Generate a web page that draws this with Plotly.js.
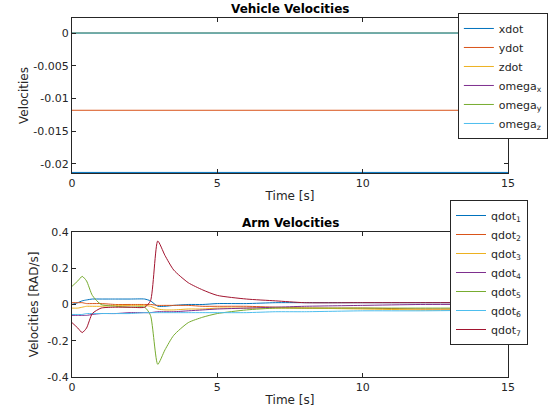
<!DOCTYPE html>
<html><head><meta charset="utf-8">
<script src="https://cdn.plot.ly/plotly-3.0.1.min.js"></script>
<style>body{margin:0;background:#fff}#chart{width:560px;height:420px}</style>
</head><body><div id="chart"></div>
<script>
// vehicle velocities (constant over the run)
const tVeh = [0, 15];
const xdot = [-0.0213, -0.0213];
const ydot = [-0.0118, -0.0118];
const zdot = [0, 0];
const omegaX = [0, 0];
const omegaY = [0, 0];
const omegaZ = [0, 0];

// arm velocities
const tArm = [0, 0.2, 0.35, 0.5, 0.7, 1, 1.5, 2, 2.5, 2.7, 2.95, 3.2, 3.5, 4, 4.5, 5, 6, 7, 8, 10, 12, 15];
const qdot1 = [0, 0.01, 0.02, 0.025, 0.03, 0.03, 0.03, 0.03, 0.03, 0.02, -0.01, -0.01, -0.005, 0, 0, 0.005, 0.005, 0.01, 0.01, 0.01, 0.01, 0.01];
const qdot2 = [0.01, 0.01, 0.01, 0.005, 0.005, 0.005, 0.0, 0.0, 0.0, 0.0, -0.005, -0.005, -0.005, -0.005, -0.01, -0.01, -0.01, -0.015, -0.02, -0.02, -0.025, -0.025];
const qdot3 = [-0.02, -0.02, -0.015, -0.01, -0.01, -0.01, -0.005, -0.005, -0.005, -0.01, -0.025, -0.03, -0.03, -0.025, -0.025, -0.02, -0.02, -0.02, -0.02, -0.025, -0.03, -0.03];
const qdot4 = [-0.06, -0.06, -0.06, -0.06, -0.055, -0.05, -0.05, -0.045, -0.045, -0.045, -0.04, -0.04, -0.04, -0.035, -0.03, -0.025, -0.02, -0.015, -0.01, -0.005, 0, 0];
const qdot5 = [0.1, 0.13, 0.155, 0.13, 0.05, 0, -0.01, -0.015, -0.015, -0.06, -0.33, -0.25, -0.17, -0.1, -0.07, -0.05, -0.03, -0.02, -0.02, -0.02, -0.02, -0.02];
const qdot6 = [-0.055, -0.055, -0.055, -0.05, -0.05, -0.05, -0.05, -0.05, -0.045, -0.045, -0.045, -0.045, -0.045, -0.045, -0.045, -0.045, -0.045, -0.04, -0.04, -0.035, -0.035, -0.03];
const qdot7 = [-0.1, -0.13, -0.155, -0.13, -0.05, -0.02, -0.015, -0.015, -0.015, 0.02, 0.35, 0.27, 0.19, 0.12, 0.08, 0.05, 0.03, 0.02, 0.01, 0.01, 0.01, 0.01];

const colors = ['#0072BD', '#D95319', '#EDB120', '#7E2F8E', '#77AC30', '#4DBEEE', '#A2142F'];
const vehSeries = [['xdot', xdot], ['ydot', ydot], ['zdot', zdot], ['omega<sub>x</sub>', omegaX], ['omega<sub>y</sub>', omegaY], ['omega<sub>z</sub>', omegaZ]];
const armSeries = [qdot1, qdot2, qdot3, qdot4, qdot5, qdot6, qdot7];

const data = [];
vehSeries.forEach((s, i) => data.push({x: tVeh, y: s[1], name: s[0], mode: 'lines', line: {color: colors[i], width: 1}, xaxis: 'x', yaxis: 'y', legend: 'legend', cliponaxis: false}));
armSeries.forEach((s, i) => data.push({x: tArm, y: s, name: 'qdot<sub>' + (i + 1) + '</sub>', mode: 'lines', line: {color: colors[i], width: 1, shape: 'spline', smoothing: 0.6}, xaxis: 'x2', yaxis: 'y2', legend: 'legend2'}));

const ax = {showline: true, mirror: 'ticks', linecolor: '#262626', ticks: 'inside', ticklen: 4, tickcolor: '#262626', showgrid: false, zeroline: false, tickfont: {size: 11, color: '#262626'}};
const legendStyle = {bordercolor: '#262626', borderwidth: 1, bgcolor: '#fff', font: {size: 11, color: '#262626'}, xanchor: 'left', yanchor: 'top', tracegroupgap: 0, itemwidth: 30};

const layout = {
  width: 560, height: 420, paper_bgcolor: '#fff', plot_bgcolor: '#fff',
  font: {family: 'DejaVu Sans', color: '#262626'},
  margin: {l: 72, r: 52, t: 18, b: 43},
  showlegend: true,
  xaxis: Object.assign({}, ax, {domain: [0, 1], range: [0, 15], tickvals: [0, 5, 10, 15], anchor: 'y', title: {text: 'Time [s]', font: {size: 12}, standoff: 2}}),
  yaxis: Object.assign({}, ax, {domain: [0.568, 1], range: [-0.0214, 0.0023], tickvals: [0, -0.005, -0.01, -0.015, -0.02], ticktext: ['0', '-0.005', '-0.01', '-0.015', '-0.02'], title: {text: 'Velocities', font: {size: 12}}}),
  xaxis2: Object.assign({}, ax, {domain: [0, 1], range: [0, 15], tickvals: [0, 5, 10, 15], anchor: 'y2', title: {text: 'Time [s]', font: {size: 12}, standoff: 2}}),
  yaxis2: Object.assign({}, ax, {domain: [0, 0.404], range: [-0.4, 0.4], tickvals: [-0.4, -0.2, 0, 0.2, 0.4], ticktext: ['-0.4', '-0.2', '0', '0.2', '0.4'], title: {text: 'Velocities [RAD/s]', font: {size: 12}}}),
  legend: Object.assign({}, legendStyle, {x: 0.885, y: 1.014}),
  legend2: Object.assign({}, legendStyle, {x: 0.867, y: 0.493}),
  annotations: [
    {text: '<b>Vehicle Velocities</b>', xref: 'paper', yref: 'paper', x: 0.5, y: 1.0, yanchor: 'bottom', showarrow: false, font: {size: 12, color: '#000'}},
    {text: '<b>Arm Velocities</b>', xref: 'paper', yref: 'paper', x: 0.5, y: 0.404, yanchor: 'bottom', showarrow: false, font: {size: 12, color: '#000'}}
  ]
};

Plotly.newPlot('chart', data, layout, {displayModeBar: false});
</script></body></html>
